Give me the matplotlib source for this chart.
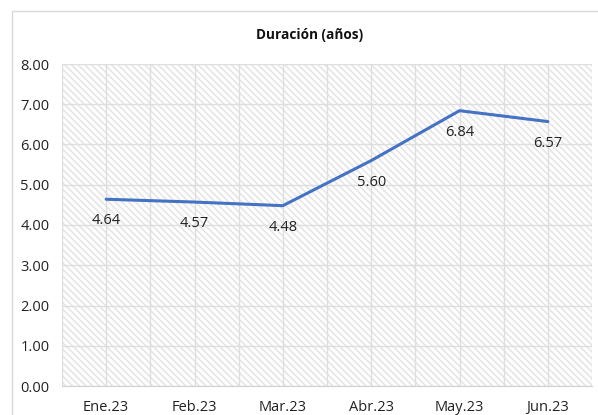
import matplotlib
matplotlib.use('Agg')
import matplotlib.pyplot as plt
from matplotlib.patches import Rectangle
from matplotlib.ticker import MultipleLocator, FormatStrFormatter

# Data
months = ["Ene.23", "Feb.23", "Mar.23", "Abr.23", "May.23", "Jun.23"]
duration = [4.64, 4.57, 4.48, 5.60, 6.84, 6.57]
labels = ["4.64", "4.57", "4.48", "5.60", "6.84", "6.57"]

plt.rcParams["font.family"] = ["Open Sans", "DejaVu Sans"]
plt.rcParams["hatch.color"] = "#e4e4e4"
plt.rcParams["hatch.linewidth"] = 1.1

fig = plt.figure(figsize=(5.98, 4.15), dpi=100)
fig.patch.set_facecolor("white")

# outer chart border
fig.patches.append(Rectangle((12 / 598, -0.05), 1.0, (415 - 11) / 415 + 0.05,
                             transform=fig.transFigure, fill=False,
                             edgecolor="#d9d9d9", linewidth=1.0, zorder=0))

ax = fig.add_axes([62 / 598, 1 - 386 / 415, 530 / 598, (386 - 64) / 415])
ax.patch.set_facecolor("white")
ax.patch.set_hatch("\\" * 5)
ax.patch.set_edgecolor("#e4e4e4")
ax.patch.set_linewidth(0)

x = list(range(len(months)))
ax.plot(x, duration, color="#4472C4", linewidth=2.2, solid_capstyle="round", zorder=3)

for xi, yi, lab in zip(x, duration, labels):
    ax.annotate(lab, (xi, yi), xytext=(0, -15.5), textcoords="offset points",
                ha="center", va="center", fontsize=10.5, color="#222222")

ax.set_xlim(-0.5, len(months) - 0.5)
ax.set_ylim(0, 8)
ax.set_xticks(x)
ax.set_xticklabels(months)
ax.xaxis.set_minor_locator(MultipleLocator(0.5))
ax.yaxis.set_major_locator(MultipleLocator(1))
ax.yaxis.set_major_formatter(FormatStrFormatter("%.2f"))

ax.grid(True, which="both", axis="x", color="#dedede", linewidth=1.0)
ax.grid(True, which="major", axis="y", color="#dedede", linewidth=1.0)
ax.set_axisbelow(True)

ax.tick_params(axis="both", which="both", length=0, labelsize=10.5, colors="#222222")
ax.tick_params(axis="x", pad=10)
ax.tick_params(axis="y", pad=9)

for side in ["top", "right", "left"]:
    ax.spines[side].set_visible(False)
ax.spines["bottom"].set_color("#d0d0d0")

fig.text(310 / 598, 1 - 35 / 415, "Duración (años)", ha="center", va="center",
         fontsize=9.8, fontweight="bold", color="#111111")

fig.savefig("out.png", dpi=100, facecolor="white")
